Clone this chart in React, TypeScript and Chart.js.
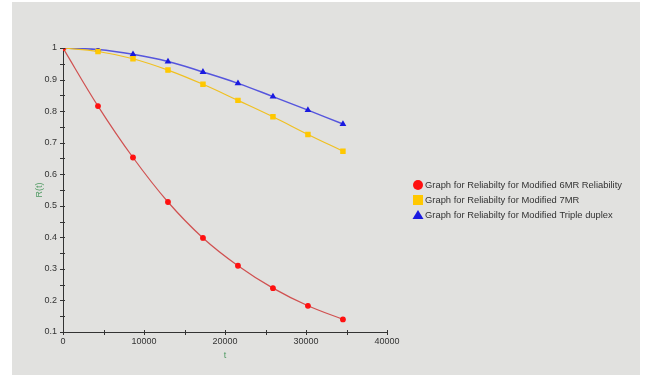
import React, { useEffect, useRef } from "react";
import { Chart, registerables } from "chart.js";

Chart.register(...registerables);

const timeHours = [0, 4320, 8640, 12960, 17280, 21600, 25920, 30240, 34560];
const sixMR = [1.0, 0.816, 0.653, 0.512, 0.398, 0.31, 0.239, 0.183, 0.14];
const sevenMR = [1.0, 0.989, 0.966, 0.93, 0.885, 0.834, 0.782, 0.726, 0.673];
const tripleDuplex = [1.0, 0.995, 0.98, 0.957, 0.924, 0.888, 0.846, 0.803, 0.759];

const seriesLabels = [
  "Graph for Reliabilty for Modified 6MR Reliability",
  "Graph for Reliabilty for Modified 7MR",
  "Graph for Reliabilty for Modified Triple duplex",
];
const xTitle = "t";
const yTitle = "R(t)";

const FONT = "'Liberation Sans', Arial, sans-serif";

const bgPlugin = {
  id: "bgPanel",
  beforeDraw(chart: any) {
    const ctx = chart.ctx;
    ctx.save();
    ctx.fillStyle = "#ffffff";
    ctx.fillRect(0, 0, chart.width, chart.height);
    ctx.fillStyle = "#e1e1df";
    ctx.fillRect(12, 2, 628, chart.height - 2);
    ctx.restore();
  },
};

const ticksPlugin = {
  id: "crossTicks",
  afterDraw(chart: any) {
    const ctx = chart.ctx;
    const xs = chart.scales.x;
    const ys = chart.scales.y;
    const area = chart.chartArea;
    ctx.save();
    ctx.strokeStyle = "#333333";
    ctx.lineWidth = 1;
    ctx.beginPath();
    for (let v = 0.1; v <= 1.0001; v += 0.05) {
      const py = Math.round(ys.getPixelForValue(v)) + 0.5;
      ctx.moveTo(area.left - 3, py);
      ctx.lineTo(area.left + 2, py);
    }
    for (let v = 0; v <= 40000; v += 5000) {
      const px = Math.round(xs.getPixelForValue(v)) + 0.5;
      ctx.moveTo(px, area.bottom - 2);
      ctx.lineTo(px, area.bottom + 3);
    }
    ctx.stroke();

    // legend
    const items = chart.data.datasets;
    const lx = 418;
    let ly = 185;
    ctx.font = "9.4px " + FONT;
    ctx.textBaseline = "middle";
    ctx.textAlign = "left";
    items.forEach((ds: any, i: number) => {
      ctx.fillStyle = ds.pointBackgroundColor;
      ctx.beginPath();
      if (i === 0) {
        ctx.arc(lx, ly, 5, 0, Math.PI * 2);
        ctx.fill();
      } else if (i === 1) {
        ctx.fillRect(lx - 5, ly - 5, 10, 10);
      } else {
        ctx.moveTo(lx, ly - 5);
        ctx.lineTo(lx + 5.5, ly + 4);
        ctx.lineTo(lx - 5.5, ly + 4);
        ctx.closePath();
        ctx.fill();
      }
      ctx.fillStyle = "#333333";
      ctx.fillText(ds.label, lx + 7, ly);
      ly += 15;
    });
    ctx.restore();
  },
};

export default function App() {
  const ref = useRef<HTMLCanvasElement | null>(null);

  useEffect(() => {
    document.body.style.margin = "0";
    if (!ref.current) return;
    const mk = (arr: number[]) => timeHours.map((t, i) => ({ x: t, y: arr[i] }));
    const chart = new Chart(ref.current, {
      type: "line",
      data: {
        datasets: [
          {
            label: seriesLabels[0],
            data: mk(sixMR),
            borderColor: "#d05050",
            backgroundColor: "#ff1010",
            pointBackgroundColor: "#ff1010",
            pointBorderColor: "#ff1010",
            pointStyle: "circle",
            pointRadius: 2.3,
            borderWidth: 1.2,
            tension: 0.4,
          },
          {
            label: seriesLabels[1],
            data: mk(sevenMR),
            borderColor: "#f0c020",
            backgroundColor: "#ffc800",
            pointBackgroundColor: "#ffc800",
            pointBorderColor: "#ffc800",
            pointStyle: "rect",
            pointRadius: 3,
            borderWidth: 1.2,
            tension: 0.4,
          },
          {
            label: seriesLabels[2],
            data: mk(tripleDuplex),
            borderColor: "#5555dd",
            backgroundColor: "#1a1ae0",
            pointBackgroundColor: "#1a1ae0",
            pointBorderColor: "#1a1ae0",
            pointStyle: "triangle",
            pointRadius: 2.4,
            borderWidth: 1.5,
            tension: 0.4,
          },
        ],
      },
      options: {
        animation: false,
        responsive: false,
        maintainAspectRatio: false,
        layout: { padding: { left: 30, right: 258, top: 48, bottom: 10 } },
        plugins: { legend: { display: false }, tooltip: { enabled: false } },
        scales: {
          x: {
            type: "linear",
            min: 0,
            max: 40000,
            grid: { display: false, drawTicks: false },
            border: { display: true, color: "#333333", width: 1 },
            ticks: {
              stepSize: 10000,
              padding: 4,
              maxRotation: 0,
              color: "#333333",
              font: { family: FONT, size: 9 },
              callback: (v: any) => String(v),
            },
            title: {
              display: true,
              text: xTitle,
              color: "#4f9a62",
              font: { family: FONT, size: 9 },
              padding: { top: 0, bottom: 4 },
            },
            afterFit: (s: any) => {
              s.height = 33;
            },
          },
          y: {
            type: "linear",
            min: 0.1,
            max: 1.0,
            grid: { display: false, drawTicks: false },
            border: { display: true, color: "#333333", width: 1 },
            ticks: {
              stepSize: 0.1,
              padding: 6,
              color: "#333333",
              font: { family: FONT, size: 9 },
              callback: (v: any) => String(Math.round(Number(v) * 10) / 10),
            },
            title: {
              display: true,
              text: yTitle,
              color: "#4f9a62",
              font: { family: FONT, size: 9 },
              padding: { top: 4, bottom: 0 },
            },
            afterFit: (s: any) => {
              s.width = 33;
            },
          },
        },
      },
      plugins: [bgPlugin, ticksPlugin],
    });
    return () => chart.destroy();
  }, []);

  return (
    <div style={{ position: "absolute", left: 0, top: 0, width: 645, height: 375 }}>
      <canvas ref={ref} width={645} height={375} style={{ width: 645, height: 375 }} />
    </div>
  );
}
